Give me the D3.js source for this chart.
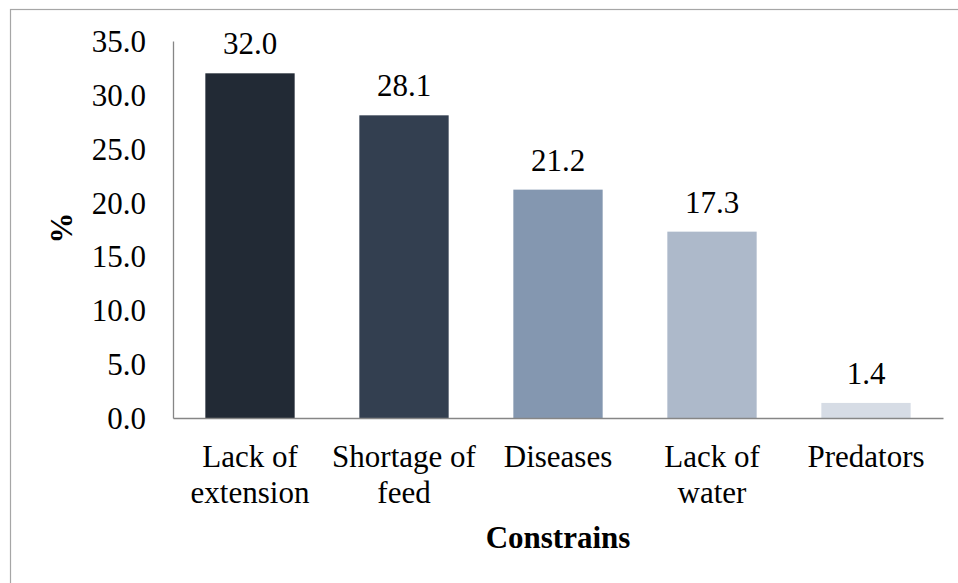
<!DOCTYPE html>
<html>
<head>
<meta charset="utf-8">
<script src="https://cdn.jsdelivr.net/npm/d3@7/dist/d3.min.js"></script>
<style>
  html, body { margin: 0; padding: 0; background: #fff; }
  svg { display: block; }
</style>
</head>
<body>
<svg id="chart" width="958" height="583"></svg>
<script>
const categories = [["Lack of", "extension"], ["Shortage of", "feed"], ["Diseases"], ["Lack of", "water"], ["Predators"]];
const values = [32.0, 28.1, 21.2, 17.3, 1.4];
const colors = ["#222a35", "#333f50", "#8497b0", "#adb9ca", "#d6dce5"];
const yTicks = [0, 5, 10, 15, 20, 25, 30, 35];
const xTitle = "Constrains";
const yTitle = "%";

const FONT = "Liberation Serif";
const FS = 31;
const svg = d3.select("#chart").attr("font-family", FONT);
const W = 958, H = 583;
const m = { left: 173, right: 15, top: 41, bottom: 165 };
const x0 = m.left, x1 = W - m.right, y0 = H - m.bottom, y1 = m.top;

// outer border
svg.append("rect").attr("x", 10.5).attr("y", 9.5).attr("width", W).attr("height", H)
  .attr("fill", "none").attr("stroke", "#a6a6a6").attr("stroke-width", 1.2);

const keys = categories.map((c, i) => i);
const x = d3.scaleBand().domain(keys).range([x0, x1]).paddingInner(0.42).paddingOuter(0.21);
const y = d3.scaleLinear().domain([0, 35]).range([y0, y1]);

// bars
svg.append("g").selectAll("rect").data(values).join("rect")
  .attr("x", (d, i) => x(i)).attr("width", x.bandwidth())
  .attr("y", d => y(d)).attr("height", d => y(0) - y(d))
  .attr("fill", (d, i) => colors[i]);

// value labels
svg.append("g").selectAll("text").data(values).join("text")
  .attr("x", (d, i) => x(i) + x.bandwidth() / 2)
  .attr("y", d => y(d) - 19)
  .attr("text-anchor", "middle").attr("font-size", FS).attr("font-family", FONT)
  .text(d => d.toFixed(1));

// y axis
const yAxis = d3.axisLeft(y).tickValues(yTicks).tickSize(0).tickPadding(27).tickFormat(d3.format(".1f"));
const gy = svg.append("g").attr("transform", `translate(${x0},0)`).call(yAxis)
  .attr("font-family", FONT).attr("font-size", FS);
gy.select(".domain").attr("stroke", "#868686").attr("stroke-width", 1.3);
gy.selectAll("text").attr("font-size", FS).attr("font-family", FONT).attr("fill", "#000").attr("dy", "0.34em");

// x axis
const xAxis = d3.axisBottom(x).tickSize(0).tickFormat("");
const gx = svg.append("g").attr("transform", `translate(0,${y0})`).call(xAxis);
gx.select(".domain").attr("stroke", "#868686").attr("stroke-width", 1.3);

// category labels
const cl = svg.append("g").selectAll("text").data(categories).join("text")
  .attr("x", (d, i) => x(i) + x.bandwidth() / 2)
  .attr("y", 467).attr("text-anchor", "middle").attr("font-size", FS).attr("font-family", FONT);
cl.each(function(d) {
  const t = d3.select(this);
  d.forEach((line, j) => {
    t.append("tspan").attr("x", t.attr("x")).attr("dy", j === 0 ? 0 : 36).text(line);
  });
});

// axis titles
svg.append("text").attr("x", (x0 + x1) / 2).attr("y", 548).attr("text-anchor", "middle")
  .attr("font-size", FS).attr("font-family", FONT).attr("font-weight", "bold").text(xTitle);
svg.append("text").attr("transform", `translate(72,228) rotate(-90)`).attr("text-anchor", "middle")
  .attr("font-size", FS).attr("font-family", FONT).attr("font-weight", "bold").text(yTitle);
</script>
</body>
</html>
